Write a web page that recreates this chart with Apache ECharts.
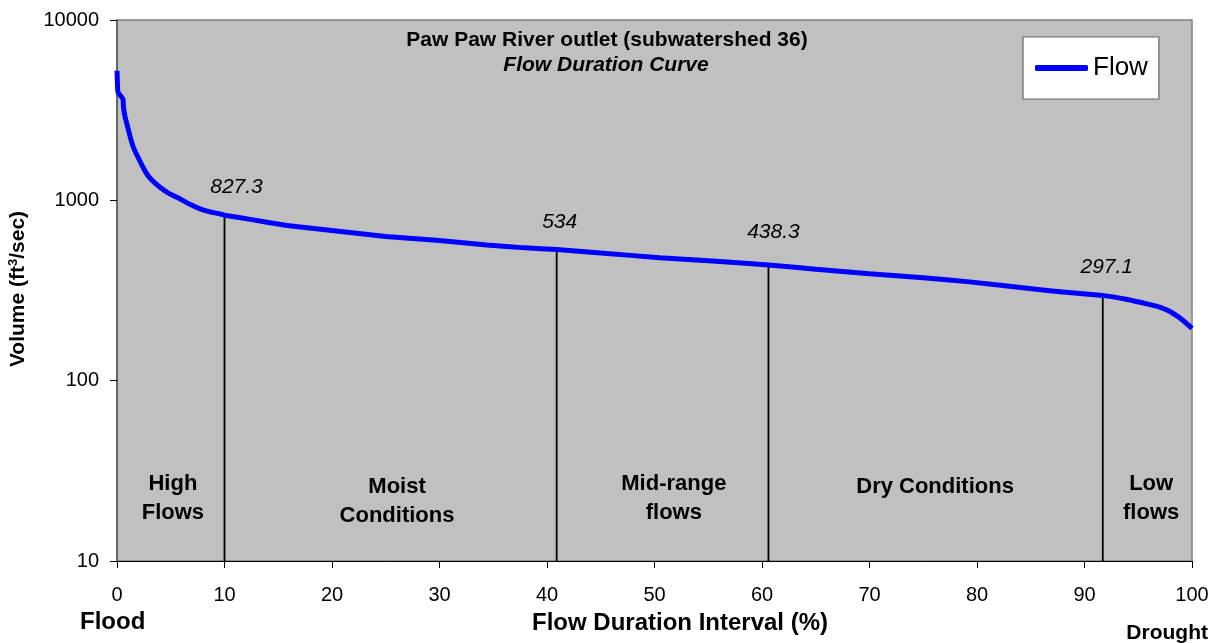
<!DOCTYPE html>
<html>
<head>
<meta charset="utf-8">
<title>Paw Paw River outlet - Flow Duration Curve</title>
<script src="https://cdn.jsdelivr.net/npm/echarts@6/dist/echarts.min.js"></script>
<style>
  html, body { margin: 0; padding: 0; background: #ffffff; }
  #chart { width: 1222px; height: 643px; }
</style>
</head>
<body>
<div id="chart"></div>
<script>
// Flow duration curve: percent of time a flow is exceeded vs flow (ft3/sec)
const exceedPct = [0, 0.05, 0.09, 0.56, 0.6, 0.74, 0.93, 1.21, 1.49, 1.77, 2.05, 2.42, 2.79, 3.26, 4.0, 4.74, 5.58, 6.79, 7.72, 8.65, 9.58, 10, 12.4, 15.8, 20, 25, 30, 34.4, 38, 40.9, 45, 50.5, 55, 60.6, 65, 70, 75, 79.3, 85.5, 88, 91.7, 94, 96, 97, 98, 99.2, 100];
const flowCfs = [5230, 4300, 3980, 3640, 3290, 2930, 2640, 2270, 1995, 1825, 1690, 1525, 1395, 1292, 1181, 1101, 1039, 950, 897, 863, 841, 827.3, 784, 725, 680, 631, 598, 566, 545, 534, 510, 481, 462, 438.3, 415, 392, 372, 353, 321, 310, 297.1, 282, 265, 256, 241, 215, 195];

// Zone boundaries and the flow at each boundary
const dividerPct = [10, 40.9, 60.6, 91.7];
const dividerFlow = [827.3, 534, 438.3, 297.1];

// Flow zone names and the percent at which each is centred
const zoneNames = [['High', 'Flows'], ['Moist', 'Conditions'], ['Mid-range', 'flows'], ['Dry Conditions'], ['Low', 'flows']];
const zoneCenters = [5.2, 26.05, 51.8, 76.1, 96.2];

const xTicks = [0, 10, 20, 30, 40, 50, 60, 70, 80, 90, 100];
const yTicks = [10, 100, 1000, 10000];

const FONT = '"Liberation Sans", Arial, sans-serif';
const INK = '#000000';

const chart = echarts.init(document.getElementById('chart'), null, { renderer: 'canvas' });

// Vertical zone dividers run from the axis floor up to the curve
const dividerSeries = dividerPct.map((p, i) => ({
  type: 'line',
  name: 'divider' + i,
  data: [[p, 10], [p, dividerFlow[i]]],
  showSymbol: false,
  symbol: 'none',
  lineStyle: { color: '#000000', width: 1.8 },
  silent: true,
  z: 2
}));

// Value labels sit just above the top of each divider
const labelNudge = [[12, -28], [3, -27], [5, -33], [4, -28]];
const labelSeries = {
  type: 'scatter',
  name: 'dividerLabels',
  data: dividerPct.map((p, i) => ({
    value: [p, dividerFlow[i]],
    label: { offset: labelNudge[i] }
  })),
  symbolSize: 0,
  silent: true,
  itemStyle: { opacity: 1 },
  label: {
    show: true,
    position: 'inside',
    align: 'center',
    verticalAlign: 'middle',
    formatter: (d) => String(d.value[1]),
    fontFamily: FONT,
    fontStyle: 'italic',
    fontSize: 21,
    color: INK,
    opacity: 1
  },
  z: 4
};

const PX0 = 117, PXW = 10.75;
const graphics = [];
zoneNames.forEach((lines, i) => {
  const low = (i === 1 || i === 3);
  graphics.push({
    type: 'text',
    x: PX0 + zoneCenters[i] * PXW,
    y: low ? 472 : 469,
    style: {
      text: lines.join('\n'),
      font: 'bold 22px ' + FONT,
      fill: INK,
      align: 'center',
      verticalAlign: 'top',
      lineHeight: 29.5
    },
    z: 10
  });
});

const option = {
  animation: false,
  backgroundColor: '#ffffff',
  grid: { left: 117, right: 30, top: 20, bottom: 82, show: true, backgroundColor: '#c0c0c0', borderColor: '#808080', borderWidth: 1.5 },
  legend: {
    data: ['Flow'],
    left: 1023, top: 37,
    backgroundColor: '#ffffff',
    borderColor: '#666666',
    borderWidth: 1.2,
    padding: [18, 11, 18, 12],
    icon: 'roundRect',
    itemWidth: 53,
    itemHeight: 6,
    itemStyle: { color: '#0000ff' },
    textStyle: { fontFamily: FONT, fontSize: 26, color: '#000000' }
  },
  xAxis: {
    type: 'value',
    min: 0, max: 100, interval: 10,
    axisLine: { show: true, lineStyle: { color: '#000000', width: 1 } },
    axisTick: { show: true, length: 7, lineStyle: { color: '#000000' } },
    axisLabel: { fontFamily: FONT, fontSize: 20, color: INK, margin: 24,
      formatter: (v) => xTicks.includes(v) ? String(v) : '' },
    splitLine: { show: false }
  },
  yAxis: {
    type: 'log',
    logBase: 10,
    min: 10, max: 10000,
    axisLine: { show: true, lineStyle: { color: '#555555', width: 1.5 } },
    axisTick: { show: true, length: 7, lineStyle: { color: '#000000' } },
    minorTick: { show: false },
    axisLabel: { fontFamily: FONT, fontSize: 20, color: INK, margin: 18,
      formatter: (v) => yTicks.includes(Math.round(v)) ? String(Math.round(v)) : '' },
    splitLine: { show: false }
  },
  graphic: graphics.concat([
    {
      type: 'text', x: 607, y: 30,
      style: { text: 'Paw Paw River outlet (subwatershed 36)', font: 'bold 21px ' + FONT, fill: INK, align: 'center', verticalAlign: 'top' },
      z: 10
    },
    {
      type: 'text', x: 606, y: 55,
      style: { text: 'Flow Duration Curve', font: 'italic bold 21px ' + FONT, fill: INK, align: 'center', verticalAlign: 'top' },
      z: 10
    },
    {
      type: 'text', x: 18, y: 289,
      rotation: Math.PI / 2,
      style: {
        text: '{b|Volume (ft}{s|3}{b|/sec)}',
        align: 'center', verticalAlign: 'middle',
        rich: {
          b: { fontFamily: FONT, fontWeight: 'bold', fontSize: 21, color: INK },
          s: { fontFamily: FONT, fontWeight: 'bold', fontSize: 13, color: INK, verticalAlign: 'top', padding: [0, 0, 10, 0] }
        }
      },
      z: 10
    },
    {
      type: 'text', x: 828, y: 623,
      style: { text: 'Flow Duration Interval (%)', font: 'bold 24px ' + FONT, fill: INK, align: 'right', verticalAlign: 'middle' },
      z: 10
    },
    {
      type: 'text', x: 80, y: 622,
      style: { text: 'Flood', font: 'bold 24px ' + FONT, fill: INK, align: 'left', verticalAlign: 'middle' },
      z: 10
    },
    {
      type: 'text', x: 1208, y: 633,
      style: { text: 'Drought', font: 'bold 21px ' + FONT, fill: INK, align: 'right', verticalAlign: 'middle' },
      z: 10
    }
  ]),
  series: [
    {
      type: 'line',
      name: 'Flow',
      data: exceedPct.map((p, i) => [p, flowCfs[i]]),
      showSymbol: false,
      symbol: 'none',
      smooth: 0.1,
      lineStyle: { color: '#0000ff', width: 5 },
      itemStyle: { color: '#0000ff' },
      z: 3
    }
  ].concat(dividerSeries, [labelSeries])
};

chart.setOption(option);
</script>
</body>
</html>
